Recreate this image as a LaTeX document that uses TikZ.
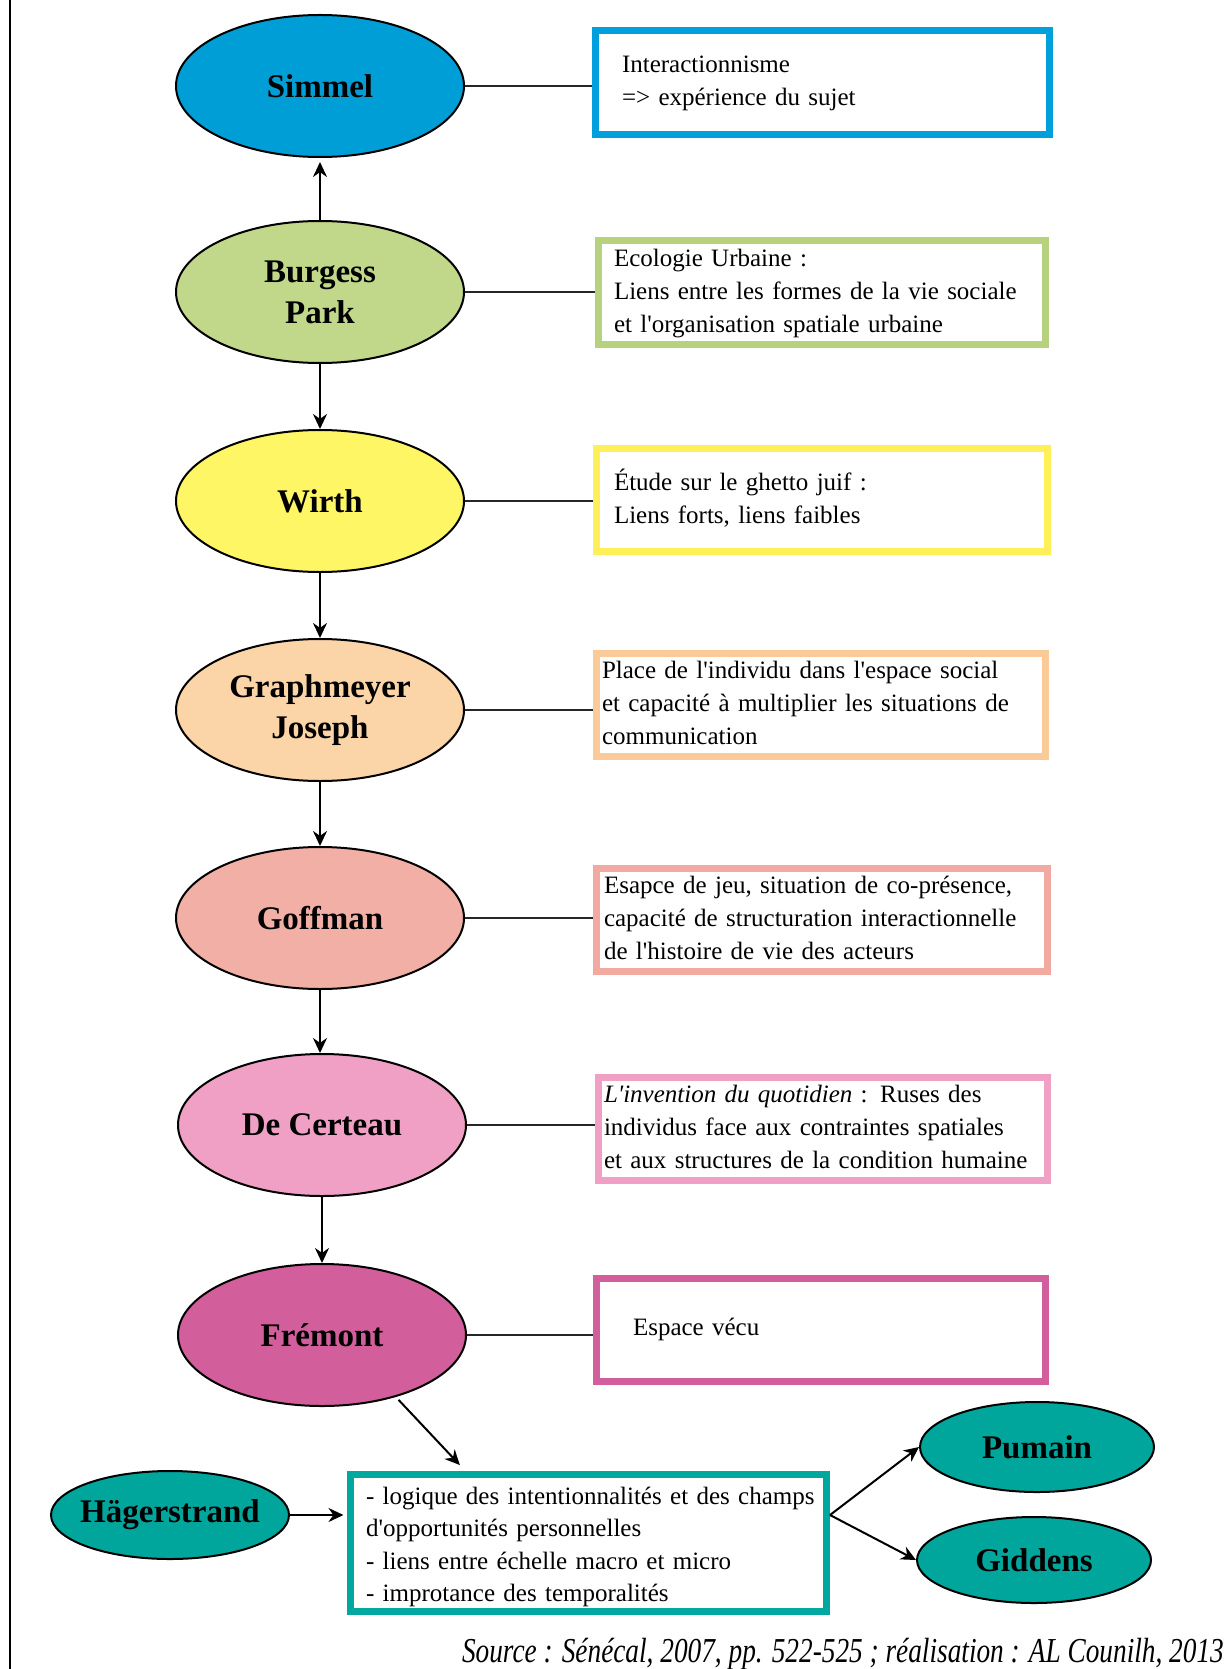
\documentclass[tikz,border=0pt]{standalone}
\usepackage{fontspec}
\setmainfont{Liberation Serif}
\usepackage{graphicx}
\usetikzlibrary{shapes.geometric,arrows.meta,calc}
\definecolor{cSim}{RGB}{0,158,214}
\definecolor{bSim}{RGB}{0,160,220}
\definecolor{cBur}{RGB}{193,216,138}
\definecolor{bBur}{RGB}{183,210,126}
\definecolor{cWir}{RGB}{255,246,102}
\definecolor{bWir}{RGB}{255,240,90}
\definecolor{cGra}{RGB}{251,212,168}
\definecolor{bGra}{RGB}{250,202,152}
\definecolor{cGof}{RGB}{242,175,166}
\definecolor{bGof}{RGB}{242,170,160}
\definecolor{cDeC}{RGB}{240,160,196}
\definecolor{bDeC}{RGB}{240,160,196}
\definecolor{cFre}{RGB}{210,94,155}
\definecolor{bFre}{RGB}{210,94,155}
\definecolor{cTeal}{RGB}{0,166,156}
\definecolor{bTeal}{RGB}{0,168,160}
\newcommand\bodyfnt{\fontsize{25pt}{33pt}\selectfont}
\newcommand\tealfnt{\fontsize{25pt}{32.5pt}\selectfont}
\newcommand\lblfnt{\bfseries\fontsize{33pt}{41pt}\selectfont}
\newcommand\ap{\textquotesingle}
\begin{document}
\begin{tikzpicture}[x=1pt,y=-1pt,
  pers/.style={ellipse, draw=black, line width=2pt, fill=#1, minimum width=288pt, minimum height=142pt, inner sep=0pt, align=center, font=\lblfnt},
  ibox/.style={rectangle, draw=#1, line width=7pt, fill=white, minimum height=103pt, inner ysep=0pt, align=left, font=\bodyfnt},
  link/.style={line width=1.5pt, draw=black!85},
  arr/.style={line width=2pt, -{Stealth[length=15pt,width=14pt]}}]
\useasboundingbox (0,0) rectangle (1231,1669);
\draw[line width=2.2pt] (10,0) -- (10,1669);

% persons
\node[pers=cSim] (sim) at (320,86) {Simmel};
\node[pers=cBur] (bur) at (320,292) {Burgess\\Park};
\node[pers=cWir] (wir) at (320,501) {Wirth};
\node[pers=cGra] (gra) at (320,710) {Graphmeyer\\Joseph};
\node[pers=cGof] (gof) at (320,918) {Goffman};
\node[pers=cDeC] (dec) at (322,1125) {De Certeau};
\node[pers=cFre] (fre) at (322,1335) {Frémont};
\node[pers=cTeal, minimum width=238pt, minimum height=88pt, inner xsep=-6pt] (hag) at (170,1515) {Hägerstrand};
\node[pers=cTeal, minimum width=234pt, minimum height=90pt] (pum) at (1037,1447) {Pumain};
\node[pers=cTeal, minimum width=234pt, minimum height=86pt] (gid) at (1034,1560) {Giddens};

% boxes
\node[ibox=bSim, minimum width=454pt, minimum height=104pt, text width=401pt, inner xsep=26.5pt] (tsim) at (822.5,82.5)
  {\begin{tabular}{@{}l@{}}Interactionnisme\\=> expérience du sujet\end{tabular}};
\node[ibox=bBur, minimum width=447pt, text width=416pt, inner xsep=15.5pt] (tbur) at (822,292.5)
  {\begin{tabular}{@{}l@{}}Ecologie Urbaine :\\Liens entre les formes de la vie sociale\\et l\ap organisation spatiale urbaine\end{tabular}};
\node[ibox=bWir, minimum width=451pt, text width=416pt, inner xsep=17.5pt] (twir) at (822,500)
  {\begin{tabular}{@{}l@{}}Étude sur le ghetto juif :\\Liens forts, liens faibles\end{tabular}};
\node[ibox=bGra, minimum width=449pt, text width=438pt, inner xsep=5.5pt] (tgra) at (821,705)
  {\begin{tabular}{@{}l@{}}Place de l\ap individu dans l\ap espace social\\et capacité à multiplier les situations de\\communication\end{tabular}};
\node[ibox=bGof, minimum width=451pt, text width=436pt, inner xsep=7.5pt] (tgof) at (822,920)
  {\begin{tabular}{@{}l@{}}Esapce de jeu, situation de co-présence,\\capacité de structuration interactionnelle\\de l\ap histoire de vie des acteurs\end{tabular}};
\node[ibox=bDeC, minimum width=449pt, text width=438pt, inner xsep=5.5pt] (tdec) at (823,1129)
  {\begin{tabular}{@{}l@{}}\textit{L\ap invention du quotidien} : Ruses des\\individus face aux contraintes spatiales\\et aux structures de la condition humaine\end{tabular}};
\node[ibox=bFre, minimum width=449pt, text width=376pt, inner xsep=36.5pt] (tfre) at (821,1329.5)
  {Espace vécu};
\node[ibox=bTeal, minimum width=476pt, minimum height=137pt, text width=445pt, inner xsep=15.5pt, font=\tealfnt] (tteal) at (588.5,1543)
  {\begin{tabular}{@{}l@{}}\rule{0pt}{30pt}- logique des intentionnalités et des champs\\d\ap opportunités personnelles\\- liens entre échelle macro et micro\\- improtance des temporalités\end{tabular}};

% links
\draw[link] (sim.east) -- (sim.east -| tsim.west);
\draw[link] (bur.east) -- (bur.east -| tbur.west);
\draw[link] (wir.east) -- (wir.east -| twir.west);
\draw[link] (gra.east) -- (gra.east -| tgra.west);
\draw[link] (gof.east) -- (gof.east -| tgof.west);
\draw[link] (dec.east) -- (dec.east -| tdec.west);
\draw[link] (fre.east) -- (fre.east -| tfre.west);

% arrows
\draw[arr, shorten >=4pt] (bur.north) -- (bur.north |- sim.south);
\draw[arr] (bur.south) -- (bur.south |- wir.north);
\draw[arr] (wir.south) -- (wir.south |- gra.north);
\draw[arr] (gra.south) -- (gra.south |- gof.north);
\draw[arr] (gof.south) -- (gof.south |- dec.north);
\draw[arr] (dec.south) -- (dec.south |- fre.north);
\draw[arr, shorten <=4pt, shorten >=8pt] (fre.-40) -- ($(tteal.north west)!0.245!(tteal.north east)$);
\draw[arr, shorten >=3.5pt] (hag.east) -- (hag.east -| tteal.west);
\coordinate (split) at (hag.east -| tteal.east);
\draw[arr] (split) -- (pum.west);
\draw[arr] (split) -- (gid.west);

% source
\node[anchor=east, inner sep=0pt, font=\fontsize{35pt}{40pt}\selectfont\itshape] (src) at (1224,1654)
  {\scalebox{0.78}[1]{Source : Sénécal, 2007, pp. 522-525 ; réalisation : AL Counilh, 2013}};
\end{tikzpicture}
\end{document}
